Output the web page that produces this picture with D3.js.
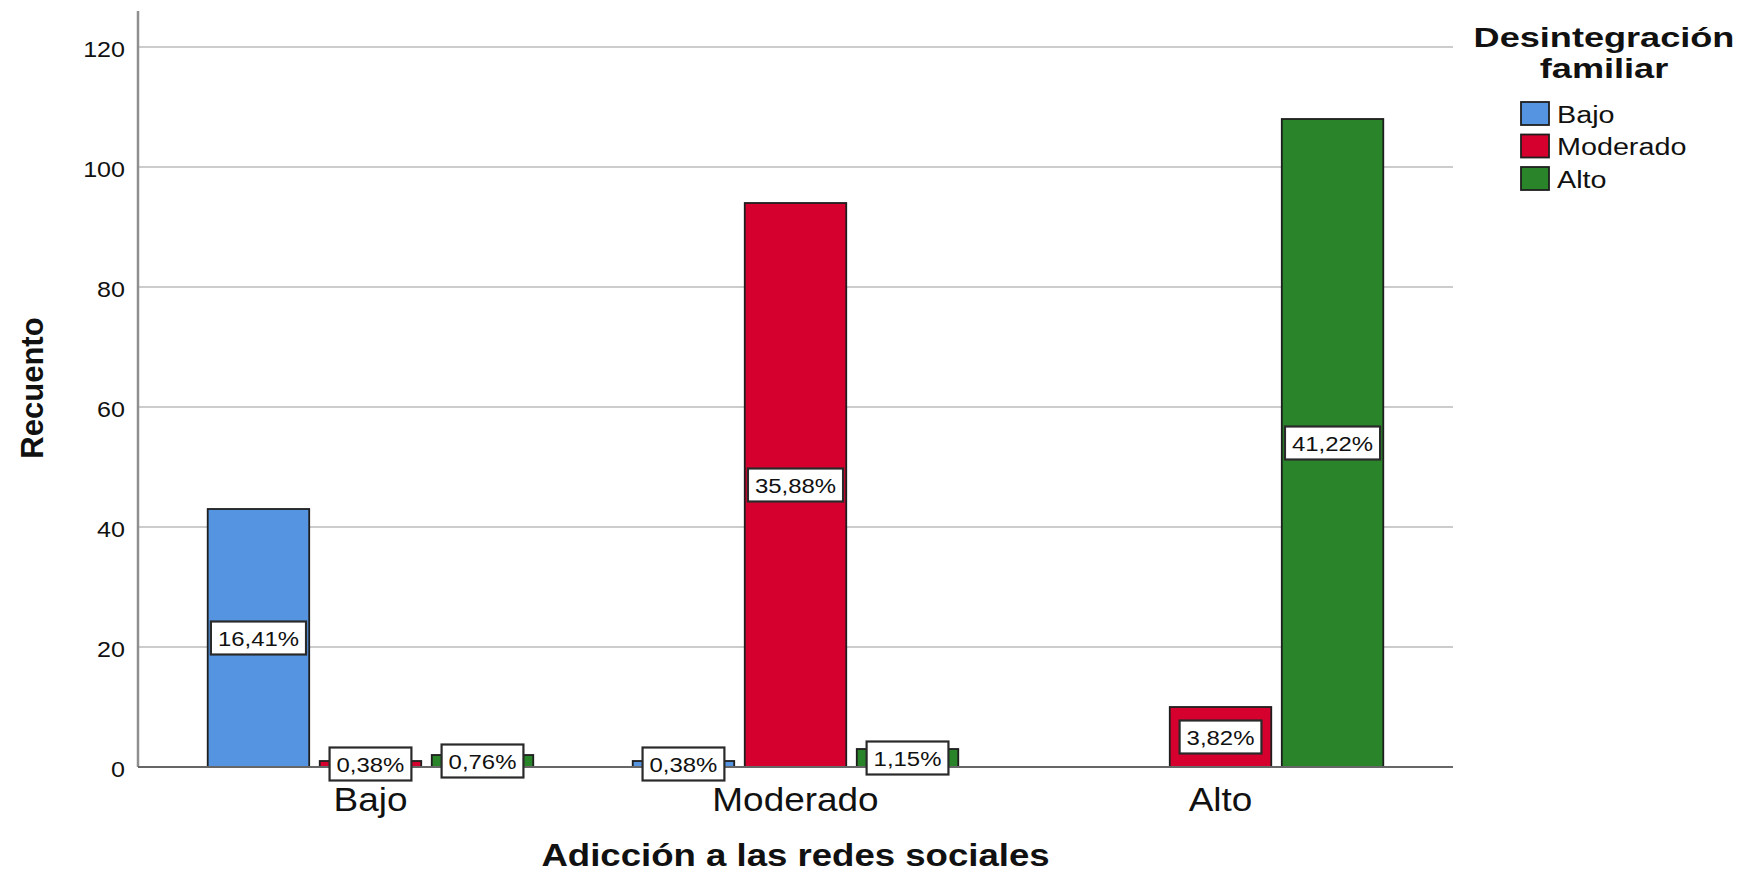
<!DOCTYPE html>
<html>
<head>
<meta charset="utf-8">
<script src="https://cdn.jsdelivr.net/npm/d3@7"></script>
<style>
  html, body { margin: 0; padding: 0; background: #fff; }
  svg { display: block; }
  text { font-family: "Liberation Sans", Arial, sans-serif; fill: #111; }
</style>
</head>
<body>
<svg id="chart" width="1746" height="872"></svg>
<script>
// ---- data ----
const categories = ["Bajo", "Moderado", "Alto"];          // Adicción a las redes sociales
const series = ["Bajo", "Moderado", "Alto"];              // Desintegración familiar
const bajoValues = [43, 1, 0];
const moderadoValues = [1, 94, 10];
const altoValues = [2, 3, 108];
const yTicks = [0, 20, 40, 60, 80, 100, 120];
const colors = ["#5594e1", "#d6002f", "#2a842a"];
const xTitle = "Adicción a las redes sociales";
const yTitle = "Recuento";
const legendTitle = ["Desintegración", "familiar"];

(function () {
const seriesValues = [bajoValues, moderadoValues, altoValues];
const total = d3.sum(seriesValues.flat());

const svg = d3.select("#chart");
const pLeft = 138, pRight = 1453, pTop = 11, pBottom = 767;

const x0 = d3.scaleBand().domain(categories).range([pLeft, pRight]).paddingInner(0).paddingOuter(0.047);
const x1 = d3.scaleBand().domain(series).range([0, x0.bandwidth()]).paddingInner(0.094).paddingOuter(0.444);
const y = d3.scaleLinear().domain([0, 126]).range([pBottom, pTop]);

function stext(g, x, yy, str, size, weight, anchor, sx) {
  return g.append("text")
    .attr("transform", `translate(${x},${yy}) scale(${sx},1)`)
    .attr("font-size", size)
    .attr("font-weight", weight)
    .attr("text-anchor", anchor)
    .text(str);
}

// gridlines
svg.append("g").selectAll("line").data(yTicks.filter(d => d > 0)).join("line")
  .attr("x1", pLeft).attr("x2", pRight)
  .attr("y1", d => y(d)).attr("y2", d => y(d))
  .attr("stroke", "#cccccc").attr("stroke-width", 2);

// y axis
const yAxis = svg.append("g").attr("transform", `translate(${pLeft},0)`)
  .call(d3.axisLeft(y).tickValues(yTicks).tickSize(0).tickPadding(13).tickFormat(d3.format("d")));
yAxis.select(".domain").remove();
yAxis.selectAll("text")
  .attr("font-size", 22)
  .attr("font-family", "Liberation Sans, Arial, sans-serif")
  .attr("fill", "#2a2a2a")
  .attr("dy", "0.45em")
  .attr("transform", "scale(1.14,1)")
  .attr("x", -13 / 1.14);
svg.append("line").attr("x1", pLeft).attr("x2", pLeft).attr("y1", pTop).attr("y2", pBottom)
  .attr("stroke", "#8f8f8f").attr("stroke-width", 2.5);

// bars
const barData = [];
categories.forEach((c, ci) => {
  series.forEach((s, si) => {
    barData.push({ cat: c, ser: s, si, value: seriesValues[si][ci] });
  });
});
const shown = barData.filter(d => d.value > 0);

svg.append("g").selectAll("rect").data(shown).join("rect")
  .attr("x", d => x0(d.cat) + x1(d.ser))
  .attr("y", d => y(d.value))
  .attr("width", x1.bandwidth())
  .attr("height", d => y(0) - y(d.value))
  .attr("fill", d => colors[d.si])
  .attr("stroke", "#1e1e1e").attr("stroke-width", 1.8);

// x axis line
svg.append("line").attr("x1", pLeft).attr("x2", pRight).attr("y1", y(0)).attr("y2", y(0))
  .attr("stroke", "#666").attr("stroke-width", 2);

// percentage labels
const fmtPct = v => (v / total * 100).toFixed(2).replace(".", ",") + "%";
const lg = svg.append("g");
shown.forEach(d => {
  const cx = x0(d.cat) + x1(d.ser) + x1.bandwidth() / 2;
  const cy = y(d.value / 2);
  const g = lg.append("g");
  const sx = 1.14;
  const t = stext(g, cx, cy + 7.5, fmtPct(d.value), 21, "normal", "middle", sx);
  const w = t.node().getComputedTextLength() * sx + 14;
  const h = 33;
  g.insert("rect", "text")
    .attr("x", cx - w / 2).attr("y", cy - h / 2)
    .attr("width", w).attr("height", h)
    .attr("fill", "#fff").attr("stroke", "#2a2a2a").attr("stroke-width", 2.2);
});

// category labels
categories.forEach(c => {
  stext(svg, x0(c) + x0.bandwidth() / 2, 811, c, 33, "normal", "middle", 1.12).attr("fill", "#2a2a2a");
});

// axis titles
stext(svg, (pLeft + pRight) / 2, 866, xTitle, 31, "bold", "middle", 1.18);
svg.append("text")
  .attr("transform", `translate(43,${(pTop + pBottom) / 2 - 1}) rotate(-90)`)
  .attr("font-size", 31).attr("font-weight", "bold").attr("text-anchor", "middle")
  .text(yTitle);

// legend
const lx = 1604;
stext(svg, lx, 47, legendTitle[0], 28, "bold", "middle", 1.29);
stext(svg, lx, 78, legendTitle[1], 28, "bold", "middle", 1.29);
series.forEach((s, i) => {
  const cy = 113.5 + i * 32.5;
  svg.append("rect").attr("x", 1521).attr("y", cy - 11.5).attr("width", 28).attr("height", 23)
    .attr("fill", colors[i]).attr("stroke", "#1e1e1e").attr("stroke-width", 1.8);
  stext(svg, 1557, cy + 9, s, 23, "normal", "start", 1.25).attr("fill", "#2a2a2a");
});
})();
</script>
</body>
</html>
